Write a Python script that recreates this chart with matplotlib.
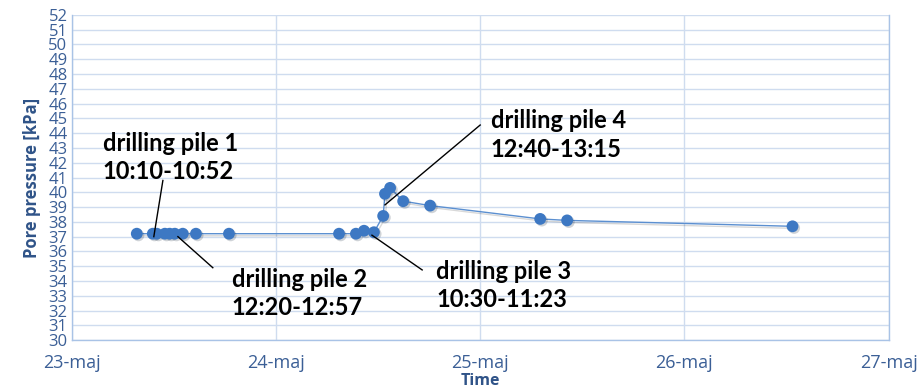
import datetime as dt

import matplotlib
matplotlib.use('Agg')
import matplotlib.pyplot as plt
import matplotlib.dates as mdates
import matplotlib.patheffects as pe

# ---- Data ----

times = [
    '2023-05-23 07:39', '2023-05-23 09:32', '2023-05-23 10:00',
    '2023-05-23 10:57', '2023-05-23 11:31', '2023-05-23 12:07',
    '2023-05-23 13:03', '2023-05-23 14:36', '2023-05-23 18:29',
    '2023-05-24 07:25', '2023-05-24 09:24', '2023-05-24 10:21',
    '2023-05-24 11:31', '2023-05-24 12:36', '2023-05-24 12:49',
    '2023-05-24 13:25', '2023-05-24 14:57', '2023-05-24 18:07',
    '2023-05-25 07:03', '2023-05-25 10:13', '2023-05-26 12:42',
]
pressure = [
    37.2, 37.2, 37.2, 37.2, 37.2, 37.2, 37.2, 37.2, 37.2,
    37.2, 37.2, 37.4, 37.3, 38.4, 39.9, 40.3, 39.4, 39.1,
    38.2, 38.1, 37.7,
]

day_ticks = ['2023-05-23', '2023-05-24', '2023-05-25', '2023-05-26', '2023-05-27']
day_labels = ['23-maj', '24-maj', '25-maj', '26-maj', '27-maj']

y_ticks = list(range(30, 53))

# label text, text anchor (top-left), leader line start, leader line end
notes = [
    ('drilling pile 1\n10:10-10:52', '2023-05-23 03:40', 44.1,
     '2023-05-23 10:43', 40.8, '2023-05-23 09:39', 37.0),
    ('drilling pile 2\n12:20-12:57', '2023-05-23 18:50', 34.9,
     '2023-05-23 16:35', 34.9, '2023-05-23 12:29', 37.0),
    ('drilling pile 3\n10:30-11:23', '2023-05-24 18:50', 35.45,
     '2023-05-24 17:11', 34.75, '2023-05-24 11:17', 37.1),
    ('drilling pile 4\n12:40-13:15', '2023-05-25 01:15', 45.6,
     '2023-05-25 00:00', 44.55, '2023-05-24 12:49', 39.15),
]

TICK_COLOR = '#3b5f96'
LABEL_COLOR = '#2f5388'
GRID_COLOR = '#cfdcef'
MARKER_COLOR = '#3d78c3'
LINE_COLOR = '#5b8fd0'


def to_num(s):
    return mdates.date2num(dt.datetime.fromisoformat(s))


plt.rcParams['font.family'] = ['Open Sans', 'DejaVu Sans']

fig = plt.figure(figsize=(9.19, 3.91), dpi=100)
ax = fig.add_axes([0.078, 0.130, 0.889, 0.832])

x = [to_num(t) for t in times]
ax.plot(x, pressure, '-', color=LINE_COLOR, lw=1.0, zorder=3,
        path_effects=[pe.SimpleLineShadow(offset=(1.5, -1.5), alpha=0.15),
                      pe.Normal()])
ax.plot(x, pressure, 'o', color=MARKER_COLOR, markersize=8.5, zorder=4,
        markeredgewidth=0,
        path_effects=[pe.SimplePatchShadow(offset=(1.2, -1.2), alpha=0.2),
                      pe.Normal()])

for text, tx, ty, x1, y1, x2, y2 in notes:
    ax.plot([to_num(x1), to_num(x2)], [y1, y2], color='black', lw=1.0,
            zorder=5)
    ax.text(to_num(tx), ty, text, ha='left', va='top', fontsize=17,
            fontweight='bold', color='black', linespacing=1.28,
            family=['Lato', 'DejaVu Sans'], zorder=6)

xt = [to_num(d) for d in day_ticks]
ax.set_xlim(xt[0], xt[-1])
ax.set_xticks(xt)
ax.set_xticklabels(day_labels)
ax.set_ylim(30, 52)
ax.set_yticks(y_ticks)

ax.grid(True, color=GRID_COLOR, lw=1.0)
ax.set_axisbelow(True)
for side, sp in ax.spines.items():
    sp.set_color('#a9c3e6')
    sp.set_linewidth(1.0)
ax.spines['top'].set_visible(False)

ax.tick_params(axis='both', length=0, colors=TICK_COLOR)
ax.tick_params(axis='y', pad=3, labelsize=12)
ax.tick_params(axis='x', pad=10, labelsize=13)

ax.set_xlabel('Time', color=LABEL_COLOR, fontweight='bold', fontsize=11.5,
              labelpad=1)
ax.set_ylabel('Pore pressure [kPa]', color=LABEL_COLOR, fontweight='bold',
              fontsize=12, labelpad=5)

fig.savefig('out.png', dpi=100)
